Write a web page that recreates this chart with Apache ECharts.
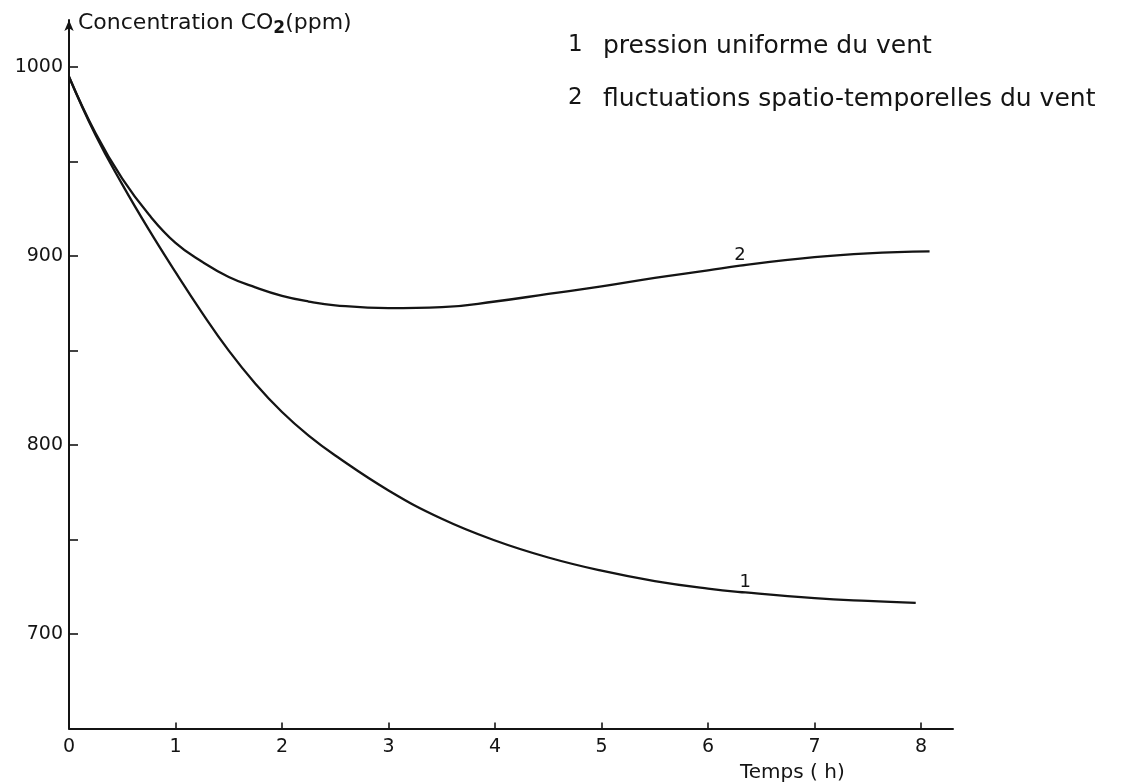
<!DOCTYPE html>
<html>
<head>
<meta charset="utf-8">
<script src="https://cdn.jsdelivr.net/npm/echarts@6/dist/echarts.min.js"></script>
<style>
  html, body { margin: 0; padding: 0; background: #ffffff; }
  #chart { width: 1131px; height: 784px; }
</style>
</head>
<body>
<div id="chart"></div>
<script>
// Courbe 1 : pression uniforme du vent (temps en h, CO2 en ppm)
const timeUniform = [0, 0.25, 0.5, 0.75, 1, 1.25, 1.5, 1.75, 2, 2.25, 2.5, 3, 3.5, 4, 4.5, 5, 5.5, 6, 6.35, 7, 7.5, 7.95];
const co2Uniform  = [995, 964, 938, 914, 891.5, 870, 850, 832.5, 817.5, 805, 794.5, 776, 761, 749.5, 740.5, 733.5, 728, 724, 722, 719, 717.5, 716.5];

// Courbe 2 : fluctuations spatio-temporelles du vent
const timeFluct = [0, 0.25, 0.5, 0.75, 1, 1.25, 1.5, 1.75, 2, 2.25, 2.5, 3, 3.5, 4, 4.5, 5, 5.5, 6, 6.3, 7, 7.5, 8.08];
const co2Fluct  = [995, 965, 941, 922, 907, 897, 889, 883.5, 879, 876, 874, 872.5, 873, 876, 880, 884, 888.5, 892.5, 895, 899.5, 901.5, 902.5];

// Repères des axes
const xTickValues = [0, 1, 2, 3, 4, 5, 6, 7, 8];
const xTickMarks  = [1, 2, 3, 4, 5, 6, 7, 8];
const yTickValues = [700, 750, 800, 850, 900, 950, 1000];
const yLabelValues = [700, 800, 900, 1000];

// Étiquettes des courbes et légende
const curveTags = ['1', '2'];
const curveTagAt = [6.35, 6.3];
const legendLines = ['pression uniforme du vent', 'fluctuations spatio-temporelles du vent'];
const yAxisTitle = ['Concentration CO', '2', '(ppm)'];
const xAxisTitle = 'Temps ( h)';

const FONT = 'DejaVu Sans';
const INK = '#141414';

function buildSeriesData(times, values, tag, tagAt) {
  return times.map((t, i) => {
    if (t === tagAt) {
      return {
        value: [t, values[i]],
        label: { show: true, formatter: tag }
      };
    }
    return [t, values[i]];
  });
}

const chart = echarts.init(document.getElementById('chart'), null, { renderer: 'canvas' });

const curveStyle = {
  type: 'line',
  smooth: 0.45,
  showSymbol: true,
  symbol: 'circle',
  symbolSize: 0,
  lineStyle: { color: INK, width: 2.3 },
  itemStyle: { color: INK },
  label: {
    show: false,
    position: 'top',
    distance: 1,
    color: INK,
    fontFamily: FONT,
    fontSize: 18
  },
  emphasis: { disabled: true },
  animation: false
};

chart.setOption({
  backgroundColor: '#ffffff',
  animation: false,
  grid: { left: 69, right: 178, top: 20, bottom: 55.5, containLabel: false },
  xAxis: {
    type: 'value',
    min: 0,
    max: 8.3,
    interval: 1,
    axisLine: { show: true, onZero: false, lineStyle: { color: INK, width: 2 } },
    axisTick: { show: true, inside: true, length: 6, customValues: xTickMarks, lineStyle: { color: INK, width: 1.6 } },
    axisLabel: {
      show: true, customValues: xTickValues, margin: 9,
      formatter: v => String(v),
      color: INK, fontFamily: FONT, fontSize: 19
    },
    splitLine: { show: false }
  },
  yAxis: {
    type: 'value',
    min: 650,
    max: 1025,
    interval: 50,
    axisLine: {
      show: true, onZero: false,
      symbol: ['none', 'arrow'], symbolSize: [7, 11],
      lineStyle: { color: INK, width: 2 }
    },
    axisTick: { show: true, inside: true, length: 9, customValues: yTickValues, lineStyle: { color: INK, width: 1.6 } },
    axisLabel: {
      show: true, customValues: yLabelValues, margin: 6,
      formatter: v => String(v),
      color: INK, fontFamily: FONT, fontSize: 19
    },
    splitLine: { show: false }
  },
  series: [
    Object.assign({}, curveStyle, {
      name: legendLines[0],
      data: buildSeriesData(timeUniform, co2Uniform, curveTags[0], curveTagAt[0])
    }),
    Object.assign({}, curveStyle, {
      name: legendLines[1],
      data: buildSeriesData(timeFluct, co2Fluct, curveTags[1], curveTagAt[1])
    })
  ],
  graphic: [
    {
      type: 'text', left: 78, top: 12, silent: true,
      style: {
        text: '{a|' + yAxisTitle[0] + '}{b|' + yAxisTitle[1] + '}{a|' + yAxisTitle[2] + '}',
        rich: {
          a: { fontFamily: FONT, fontSize: 22, fill: INK },
          b: { fontFamily: FONT, fontSize: 17, fontWeight: 'bold', fill: INK, padding: [11, 0, 0, 0] }
        }
      }
    },
    {
      type: 'text', left: 740, top: 763, silent: true,
      style: { text: xAxisTitle, fontFamily: FONT, fontSize: 20, fill: INK }
    },
    {
      type: 'text', left: 568, top: 34, silent: true,
      style: { text: curveTags[0], fontFamily: FONT, fontSize: 23, fill: INK }
    },
    {
      type: 'text', left: 603, top: 34, silent: true,
      style: { text: legendLines[0], fontFamily: FONT, fontSize: 25, fill: INK }
    },
    {
      type: 'text', left: 568, top: 87, silent: true,
      style: { text: curveTags[1], fontFamily: FONT, fontSize: 23, fill: INK }
    },
    {
      type: 'text', left: 603, top: 87, silent: true,
      style: { text: legendLines[1], fontFamily: FONT, fontSize: 25, fill: INK }
    }
  ]
});
</script>
</body>
</html>
